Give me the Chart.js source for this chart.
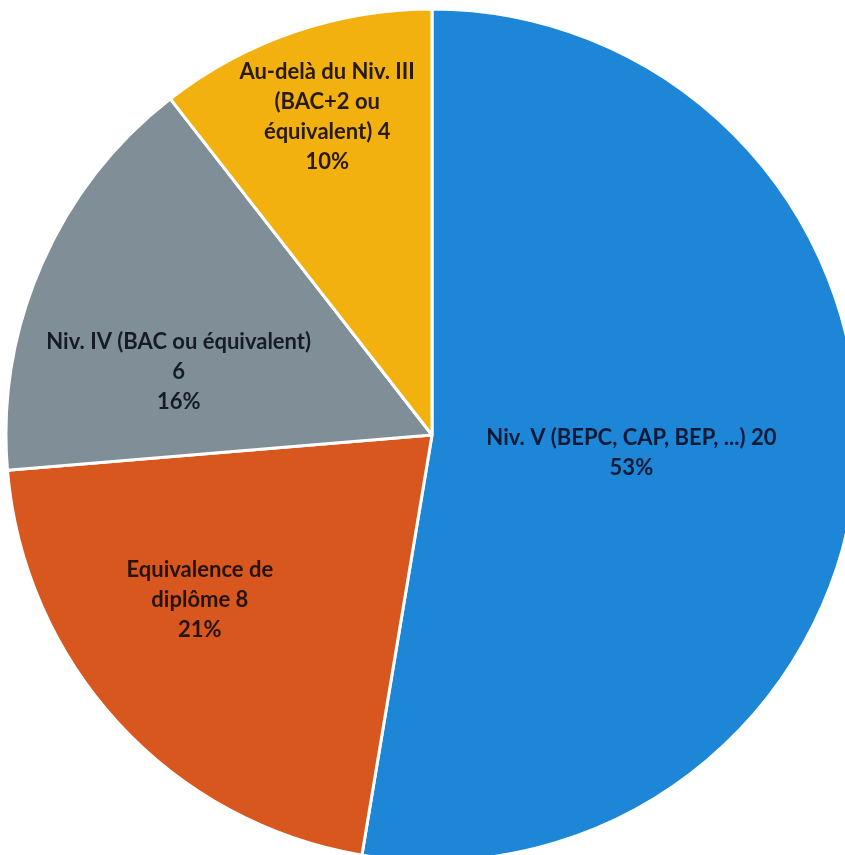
<!DOCTYPE html>
<html>
<head>
<meta charset="utf-8">
<script src="https://cdn.jsdelivr.net/npm/chart.js@4.4.1/dist/chart.umd.min.js"></script>
<style>
  html, body { margin: 0; padding: 0; background: #fff; overflow: hidden; }
  #wrap { position: absolute; left: 0; top: 0; width: 864px; height: 870px; }
</style>
</head>
<body>
<div id="wrap"><canvas id="pie" width="864" height="870"></canvas></div>
<script>
// data
const categories = [
  'Niv. V (BEPC, CAP, BEP, ...)',
  'Equivalence de diplôme',
  'Niv. IV (BAC ou équivalent)',
  'Au-delà du Niv. III (BAC+2 ou équivalent)'
];
const counts = [20, 8, 6, 4];
const percents = ['53%', '21%', '16%', '10%'];

// how the labels are wrapped in the picture
const labelLines = [
  ['Niv. V (BEPC, CAP, BEP, ...) 20', '53%'],
  ['Equivalence de', 'diplôme 8', '21%'],
  ['Niv. IV (BAC ou équivalent)', '6', '16%'],
  ['Au-delà du Niv. III', '(BAC+2 ou', 'équivalent) 4', '10%']
];

const sliceColors = ['#1e86d6', '#d8571f', '#7f8e97', '#f3b10f'];
const textColors = ['#0a1a36', '#26130b', '#151c28', '#271b08'];
// label placement: fraction of radius, angle shift from slice middle (deg)
const labelRadius = [0.47, 0.668, 0.613, 0.786];
const labelShift = [0.5, 7.3, -9.6, 0.7];

const labelPlugin = {
  id: 'sliceLabels',
  afterDatasetsDraw(chart) {
    const ctx = chart.ctx;
    const meta = chart.getDatasetMeta(0);
    ctx.save();
    ctx.font = 'bold 22px Lato, "Open Sans", sans-serif';
    ctx.textAlign = 'center';
    ctx.textBaseline = 'middle';
    const lh = 30;
    meta.data.forEach((arc, i) => {
      const p = arc.getProps(['x', 'y', 'startAngle', 'endAngle', 'outerRadius'], true);
      const a = (p.startAngle + p.endAngle) / 2 + labelShift[i] * Math.PI / 180;
      const r = p.outerRadius * labelRadius[i];
      const cx = p.x + Math.cos(a) * r;
      const cy = p.y + Math.sin(a) * r;
      const lines = labelLines[i];
      const top = cy - (lines.length - 1) * lh / 2;
      ctx.fillStyle = textColors[i];
      lines.forEach((t, k) => ctx.fillText(t, cx, top + k * lh));
    });
    ctx.restore();
  }
};

new Chart(document.getElementById('pie'), {
  type: 'pie',
  data: {
    labels: categories,
    datasets: [{
      data: counts,
      backgroundColor: sliceColors,
      borderColor: '#ffffff',
      borderWidth: 3
    }]
  },
  options: {
    responsive: false,
    animation: false,
    radius: 426,
    layout: { padding: 0 },
    plugins: {
      legend: { display: false },
      tooltip: { enabled: false }
    }
  },
  plugins: [labelPlugin]
});
</script>
</body>
</html>
